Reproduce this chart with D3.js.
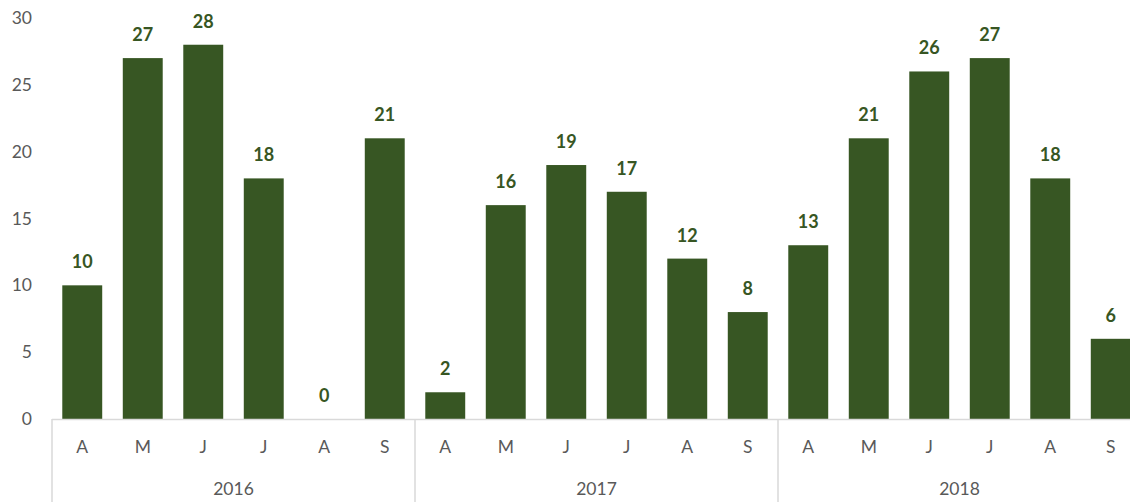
<!DOCTYPE html>
<html><head><meta charset="utf-8">
<script src="https://cdn.jsdelivr.net/npm/d3@7"></script>
<style>body{margin:0;background:#fff}svg{display:block}</style>
</head><body><svg id="c" width="1130" height="502"></svg>
<script>
const years = ["2016","2017","2018"];
const months = ["A","M","J","J","A","S"];
const values = [10,27,28,18,0,21, 2,16,19,17,12,8, 13,21,26,27,18,6];
const yTicks = [0,5,10,15,20,25,30];

const W=1130,H=502;
const plotLeft=52, step=60.5, n=values.length;
const plotRight=plotLeft+step*n;
const plotTop=18, base=419;
const svg=d3.select("#c");
const font="Lato, 'Open Sans', sans-serif";
const green="#375623", grey="#595959", lineC="#d9d9d9";

const x=d3.scaleBand().domain(d3.range(n)).range([plotLeft,plotRight]).paddingInner(0.34).paddingOuter(0.17);
const y=d3.scaleLinear().domain([0,30]).range([base,plotTop]);

// y tick labels
svg.append("g").selectAll("text").data(yTicks).join("text")
 .attr("x",32).attr("y",d=>y(d)).attr("dy","0.35em").attr("text-anchor","end")
 .attr("font-family",font).attr("font-size",17.5).attr("fill",grey).text(d=>d);

// bars
svg.append("g").selectAll("rect").data(values).join("rect")
 .attr("x",(d,i)=>x(i)).attr("width",x.bandwidth())
 .attr("y",d=>y(d)).attr("height",d=>base-y(d)).attr("fill",green);

// data labels
svg.append("g").selectAll("text").data(values).join("text")
 .attr("x",(d,i)=>x(i)+x.bandwidth()/2).attr("y",d=>y(d)-17)
 .attr("text-anchor","middle").attr("font-family",font).attr("font-weight","bold")
 .attr("font-size",18).attr("fill",green).text(d=>d);

// baseline
svg.append("line").attr("x1",plotLeft).attr("x2",plotRight).attr("y1",base+0.5).attr("y2",base+0.5)
 .attr("stroke",lineC).attr("stroke-width",1.5);

// separators
svg.append("g").selectAll("line").data(d3.range(years.length+1)).join("line")
 .attr("x1",i=>plotLeft+i*months.length*step).attr("x2",i=>plotLeft+i*months.length*step)
 .attr("y1",base).attr("y2",H).attr("stroke",lineC).attr("stroke-width",1.5);

// month labels
svg.append("g").selectAll("text").data(values).join("text")
 .attr("x",(d,i)=>x(i)+x.bandwidth()/2).attr("y",447).attr("dy","0.35em")
 .attr("text-anchor","middle").attr("font-family",font).attr("font-size",17.5).attr("fill",grey)
 .text((d,i)=>months[i%months.length]);

// year labels
svg.append("g").selectAll("text").data(years).join("text")
 .attr("x",(d,i)=>plotLeft+(i+0.5)*months.length*step).attr("y",489).attr("dy","0.35em")
 .attr("text-anchor","middle").attr("font-family",font).attr("font-size",17.5).attr("fill",grey)
 .text(d=>d);
</script></body></html>
